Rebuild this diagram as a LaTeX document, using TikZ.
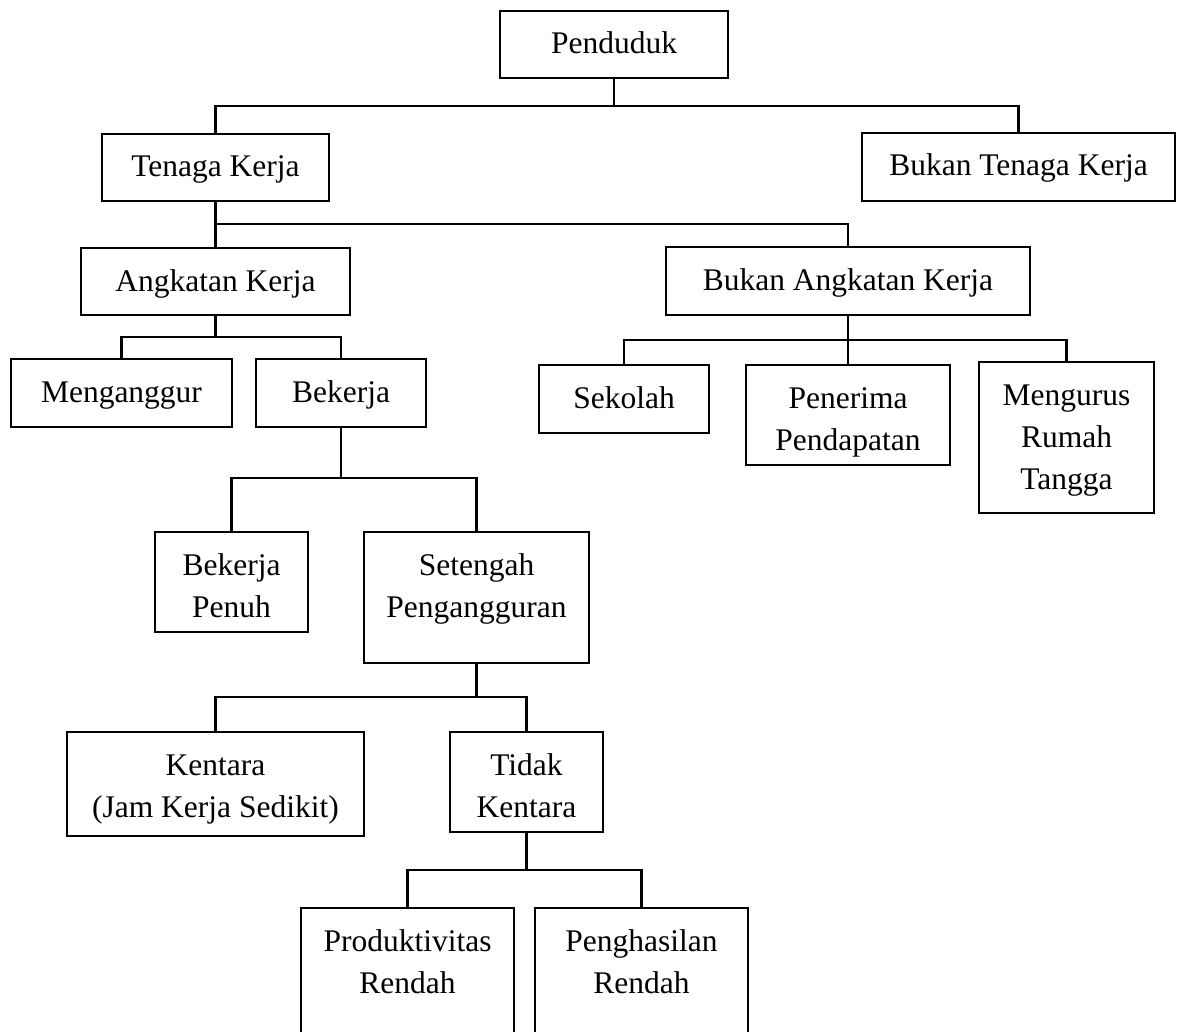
\documentclass[tikz,border=0pt]{standalone}
\usepackage{fontspec}
\setmainfont{Liberation Serif}
\tikzset{
  orgbox/.style={draw, line width=2.5pt, inner sep=0pt, outer sep=0pt, fill=white,
    font=\fontsize{31.5pt}{42pt}\selectfont},
  link/.style={line width=2.5pt, line join=miter}
}
% name, x, y (top-left, image px), width, height, text
\newcommand\mkbox[6]{%
  \node[orgbox, anchor=north west] (#1) at (#2,#3)
    {\parbox[c][#5pt][t]{#4pt}{\centering\rule{0pt}{43pt}#6}};}
\begin{document}
\begin{tikzpicture}[x=1pt, y=-1pt]
\useasboundingbox (0,0) rectangle (1177,1032);
\clip (0,0) rectangle (1177,1032);
\fill[white] (0,0) rectangle (1177,1032);

% bus levels
\coordinate (b1) at (0,106);
\coordinate (b2) at (0,224);
\coordinate (b3) at (0,337);
\coordinate (b3r) at (0,340);
\coordinate (b4) at (0,478);
\coordinate (b5) at (0,697);
\coordinate (b6) at (0,870);

\mkbox{pend}{500}{11}{228}{67}{Penduduk}
\mkbox{tk}{102}{134}{227}{67}{Tenaga Kerja}
\mkbox{btk}{862}{133}{313}{68}{Bukan Tenaga Kerja}
\mkbox{ak}{81}{248}{269}{67}{Angkatan Kerja}
\mkbox{bak}{666}{247}{364}{68}{Bukan Angkatan Kerja}
\mkbox{meng}{11}{359}{221}{68}{Menganggur}
\mkbox{bek}{256}{359}{170}{68}{Bekerja}
\mkbox{sek}{539}{365}{170}{68}{Sekolah}
\mkbox{pen}{746}{365}{204}{100}{Penerima\\Pendapatan}
\mkbox{mrt}{979}{362}{175}{151}{Mengurus\\Rumah\\Tangga}
\mkbox{bp}{155}{532}{153}{100}{Bekerja\\Penuh}
\mkbox{sp}{364}{532}{225}{131}{Setengah\\Pengangguran}
\mkbox{ken}{67}{732}{297}{104}{Kentara\\(Jam Kerja Sedikit)}
\mkbox{tkn}{450}{732}{153}{100}{Tidak\\Kentara}
\mkbox{pr}{301}{908}{213}{170}{Produktivitas\\Rendah}
\mkbox{ph}{535}{908}{213}{170}{Penghasilan\\Rendah}

\begin{scope}[link]
% Penduduk
\draw (pend.south) -- (pend.south |- b1);
\draw (tk.north) -- (tk.north |- b1) -- (btk.north |- b1) -- (btk.north);
% Tenaga Kerja
\draw (tk.south) -- (ak.north);
\draw (tk.south |- b2) -- (bak.north |- b2) -- (bak.north);
% Angkatan Kerja
\draw (ak.south) -- (ak.south |- b3);
\draw (meng.north) -- (meng.north |- b3) -- (bek.north |- b3) -- (bek.north);
% Bukan Angkatan Kerja
\draw (bak.south) -- (pen.north);
\draw (sek.north) -- (sek.north |- b3r) -- (mrt.north |- b3r) -- (mrt.north);
% Bekerja
\draw (bek.south) -- (bek.south |- b4);
\draw (bp.north) -- (bp.north |- b4) -- (sp.north |- b4) -- (sp.north);
% Setengah Pengangguran
\draw (sp.south) -- (sp.south |- b5);
\draw (ken.north) -- (ken.north |- b5) -- (tkn.north |- b5) -- (tkn.north);
% Tidak Kentara
\draw (tkn.south) -- (tkn.south |- b6);
\draw (pr.north) -- (pr.north |- b6) -- (ph.north |- b6) -- (ph.north);
\end{scope}
\end{tikzpicture}
\end{document}
